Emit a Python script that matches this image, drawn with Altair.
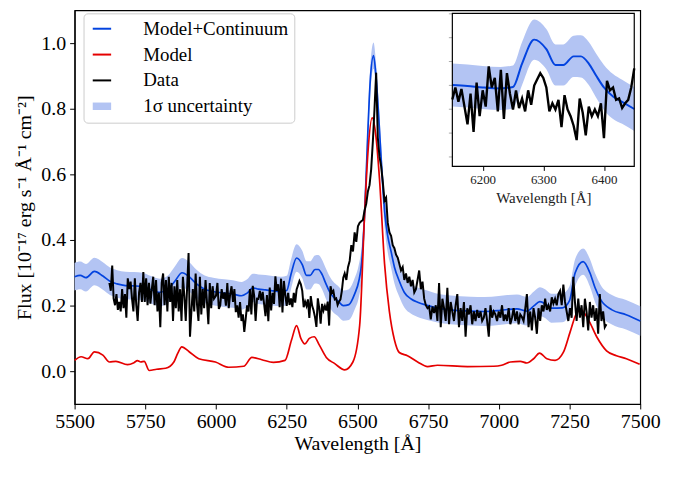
import altair as alt
import pandas as pd

# ---------------- data ----------------
# Observed spectrum ("Data"), in segments: (start wavelength, step, flux values)
DATA_A = [0.269, 0.245, 0.322, 0.221, 0.201, 0.235, 0.187, 0.211, 0.182, 0.25,
          0.192, 0.235, 0.163, 0.283, 0.25, 0.273, 0.221, 0.182, 0.283, 0.201,
          0.153, 0.240, 0.269, 0.211, 0.302, 0.211, 0.283, 0.201, 0.269, 0.206,
          0.25, 0.288, 0.201, 0.278, 0.182, 0.240, 0.134, 0.269, 0.298, 0.201,
          0.278, 0.182, 0.288, 0.211, 0.269, 0.153, 0.259, 0.192, 0.278, 0.182,
          0.25, 0.153, 0.288, 0.230, 0.153, 0.259, 0.36, 0.105, 0.182, 0.25,
          0.182, 0.298, 0.201, 0.153, 0.288, 0.173, 0.25, 0.192, 0.278, 0.211,
          0.143, 0.269, 0.192, 0.259, 0.221]
DATA_B = [0.23, 0.269, 0.19, 0.201, 0.25, 0.221, 0.24, 0.20, 0.269, 0.192,
          0.235, 0.259, 0.211, 0.25, 0.18, 0.201, 0.163, 0.211, 0.153, 0.173,
          0.12, 0.16, 0.201, 0.182, 0.25, 0.173, 0.26, 0.230, 0.153, 0.221]
DATA_C = [0.22, 0.245, 0.215, 0.242, 0.205, 0.168, 0.232, 0.152, 0.255, 0.185,
          0.239, 0.205, 0.289, 0.245, 0.265, 0.195, 0.282, 0.179, 0.275, 0.232,
          0.199, 0.239, 0.202, 0.222, 0.195, 0.239, 0.209, 0.249, 0.262, 0.275,
          0.265, 0.245, 0.195, 0.212, 0.199, 0.219, 0.162, 0.229, 0.199, 0.185,
          0.165, 0.135, 0.222, 0.192, 0.145, 0.205, 0.185, 0.199, 0.185, 0.212,
          0.139, 0.259, 0.239, 0.245, 0.219, 0.222, 0.202, 0.212, 0.219, 0.245,
          0.285]
DATA_D = [0.298, 0.278, 0.317, 0.336, 0.384, 0.365, 0.423, 0.394, 0.442, 0.452,
          0.457, 0.461, 0.49, 0.51, 0.548, 0.567, 0.616, 0.70, 0.80, 0.91,
          0.712, 0.654, 0.625, 0.577, 0.52, 0.529, 0.452, 0.423, 0.413, 0.384,
          0.375, 0.355, 0.346, 0.327, 0.307, 0.317, 0.278, 0.298, 0.269, 0.288,
          0.259, 0.278, 0.24, 0.25]
DATA_E = [0.278, 0.307, 0.25, 0.273, 0.221, 0.201, 0.192, 0.197, 0.158, 0.197,
          0.177, 0.201, 0.153, 0.269, 0.134, 0.221, 0.192, 0.153, 0.254, 0.143,
          0.211, 0.182, 0.153, 0.201, 0.235, 0.134, 0.192, 0.153, 0.211, 0.105,
          0.192, 0.173, 0.201, 0.143, 0.182, 0.153, 0.187, 0.163, 0.182, 0.153,
          0.163, 0.192, 0.153, 0.105, 0.201, 0.163, 0.182, 0.173, 0.153, 0.182,
          0.163, 0.201, 0.153, 0.173, 0.153, 0.192, 0.143, 0.163, 0.192, 0.153,
          0.182, 0.143, 0.173, 0.165, 0.153, 0.19, 0.235, 0.134, 0.182, 0.124,
          0.192]
DATA_F = [0.163, 0.114, 0.192, 0.153, 0.201, 0.182, 0.221, 0.187, 0.201, 0.182,
          0.225, 0.206, 0.221, 0.201, 0.235, 0.245, 0.201, 0.264, 0.211, 0.182,
          0.153, 0.192, 0.163, 0.288, 0.211, 0.153, 0.221, 0.163, 0.201, 0.134,
          0.221, 0.182, 0.124, 0.211, 0.163, 0.201, 0.153, 0.192, 0.114, 0.235,
          0.153, 0.182, 0.134, 0.143]
DATA_SEGMENTS = [(5623, 5.0, DATA_A), (6000, 5.0, DATA_B), (6150, 5.0, DATA_C),
                 (6455, 5.858, DATA_D), (6712.6, 5.858, DATA_E), (7128.6, 5.858, DATA_F)]

# Model + continuum (blue) and its 1-sigma half width
MODEL_WL = [5500, 5520, 5540, 5570, 5600, 5625, 5650, 5680, 5710, 5740, 5770, 5800,
            5830, 5855, 5880, 5905, 5930, 5960, 5990, 6030, 6060, 6090, 6110, 6130,
            6150, 6175, 6200, 6230, 6250, 6265, 6285, 6305, 6320, 6333, 6350, 6362,
            6375, 6387, 6400, 6415, 6430, 6450, 6470, 6490, 6505, 6515, 6525, 6537,
            6545, 6557, 6566, 6575, 6584, 6598, 6607, 6619, 6631, 6648, 6666, 6690,
            6713, 6750, 6780, 6830, 6900, 6950, 7000, 7030, 7064, 7100, 7125, 7145,
            7165, 7185, 7225, 7250, 7270, 7298, 7322, 7340, 7360, 7400, 7450, 7500]
MODEL_CONT = [0.288, 0.292, 0.285, 0.304, 0.290, 0.274, 0.266, 0.261, 0.260, 0.258, 0.248, 0.240,
              0.250, 0.275, 0.300, 0.288, 0.267, 0.250, 0.243, 0.238, 0.235, 0.230, 0.238, 0.254,
              0.250, 0.248, 0.245, 0.243, 0.246, 0.295, 0.345, 0.325, 0.292, 0.292, 0.310, 0.310,
              0.295, 0.270, 0.245, 0.226, 0.215, 0.200, 0.203, 0.235, 0.275, 0.330, 0.471, 0.731,
              0.880, 0.962, 0.895, 0.780, 0.645, 0.471, 0.413, 0.365, 0.317, 0.275, 0.240, 0.220,
              0.210, 0.200, 0.193, 0.187, 0.183, 0.182, 0.185, 0.188, 0.190, 0.183, 0.200, 0.212,
              0.205, 0.192, 0.193, 0.215, 0.300, 0.334, 0.300, 0.255, 0.218, 0.187, 0.172, 0.153]
SIGMA = [0.042, 0.042, 0.042, 0.042, 0.042, 0.042, 0.042, 0.042, 0.042, 0.042, 0.042, 0.042,
         0.042, 0.045, 0.045, 0.045, 0.043, 0.042, 0.042, 0.042, 0.042, 0.042, 0.042, 0.043,
         0.045, 0.045, 0.045, 0.045, 0.045, 0.045, 0.042, 0.042, 0.043, 0.043, 0.043, 0.044,
         0.045, 0.046, 0.047, 0.047, 0.046, 0.046, 0.047, 0.048, 0.050, 0.050, 0.050, 0.045,
         0.042, 0.040, 0.042, 0.045, 0.048, 0.050, 0.050, 0.050, 0.050, 0.048, 0.046, 0.045,
         0.045, 0.045, 0.044, 0.044, 0.044, 0.044, 0.044, 0.044, 0.044, 0.044, 0.044, 0.044,
         0.044, 0.044, 0.044, 0.044, 0.042, 0.040, 0.042, 0.044, 0.045, 0.045, 0.045, 0.045]

# Model alone (red)
RED_WL = [5500, 5523, 5547, 5570, 5600, 5623, 5646, 5687, 5710, 5722, 5734, 5746, 5764,
          5790, 5822, 5851, 5865, 5879, 5904, 5939, 5998, 6045, 6098, 6127, 6162, 6203,
          6244, 6267, 6285, 6300, 6314, 6330, 6347, 6365, 6390, 6420, 6455, 6484, 6508,
          6525, 6537, 6552, 6566, 6578, 6596, 6613, 6631, 6648, 6677, 6713, 6748, 6783,
          6889, 6982, 7010, 7041, 7076, 7099, 7123, 7144, 7170, 7199, 7228, 7252, 7275,
          7290, 7316, 7346, 7381, 7416, 7451, 7498]
RED_FLUX = [0.033, 0.044, 0.038, 0.059, 0.049, 0.028, 0.030, 0.020, 0.026, 0.032, 0.028, 0.030, 0.002,
            0.006, 0.009, 0.028, 0.055, 0.074, 0.060, 0.038, 0.028, 0.012, 0.015, 0.042, 0.035, 0.027,
            0.033, 0.095, 0.139, 0.100, 0.083, 0.100, 0.105, 0.080, 0.042, 0.023, 0.004, 0.028, 0.140,
            0.470, 0.664, 0.772, 0.712, 0.587, 0.327, 0.182, 0.095, 0.057, 0.047, 0.028, 0.014, 0.018,
            0.014, 0.015, 0.018, 0.028, 0.030, 0.025, 0.038, 0.055, 0.038, 0.033, 0.057, 0.119, 0.177,
            0.187, 0.158, 0.105, 0.062, 0.047, 0.038, 0.021]

SERIES = ["Model+Continuum", "Model", "Data", "1σ uncertainty"]
COLORS = ["#0343df", "#e50000", "#000000", "#b3c4f3"]
LINE_SYMBOL = "M-1.85,-0.2H1.85V0.2H-1.85Z"
BAND_SYMBOL = "M-1.85,-0.75H1.85V0.75H-1.85Z"
SYMBOLS = [LINE_SYMBOL, LINE_SYMBOL, LINE_SYMBOL, BAND_SYMBOL]
X_TICKS = [5500, 5750, 6000, 6250, 6500, 6750, 7000, 7250, 7500]
Y_TICKS = [0.0, 0.2, 0.4, 0.6, 0.8, 1.0]
INSET_X_TICKS = [6200, 6300, 6400]
INSET_Y_TICKS = [0.10, 0.15, 0.20, 0.25, 0.30, 0.35, 0.40]
INSET_X_DOMAIN = [6150, 6450]
INSET_Y_DOMAIN = [0.08, 0.40]

# ---------------- tables ----------------
rows = []
for start, step, vals in DATA_SEGMENTS:
    for i, v in enumerate(vals):
        rows.append({"wl": start + step * i, "flux": v})
data_df = pd.DataFrame(rows)

model_df = pd.DataFrame({"wl": MODEL_WL, "flux": MODEL_CONT, "sig": SIGMA})
model_df["lo"] = model_df["flux"] - model_df["sig"]
model_df["hi"] = model_df["flux"] + model_df["sig"]

red_df = pd.DataFrame({"wl": RED_WL, "flux": RED_FLUX})

# legend-only table (no positions -> nothing drawn, only the legend)
legend_df = pd.DataFrame({"series": SERIES, "wl": [None] * 4, "flux": [None] * 4})

FONT = "Liberation Serif"
W, H = 569, 396
INSET_TOP, INSET_BOTTOM = 3, 157
INSET_LEFT, INSET_RIGHT = 380, 563

xs = alt.Scale(domain=[5500, 7500], nice=False, zero=False)
ys = alt.Scale(domain=[-0.1, 1.1], nice=False, zero=False)

legend = alt.Legend(
    title=None, orient="none", legendX=9, legendY=3,
    labelFont=FONT, labelFontSize=19, labelColor="black",
    padding=6, rowPadding=6, symbolSize=100, symbolOffset=3, labelOffset=32,
    symbolStrokeWidth=0, symbolOpacity=1,
    fillColor="white", strokeColor="#cccccc", cornerRadius=4,
)

xax = alt.Axis(values=X_TICKS, format="d", title="Wavelength [Å]", labelFlush=False,
               labelPadding=3, titlePadding=2, orient="bottom")
yax = alt.Axis(values=Y_TICKS, format=".1f", title="Flux [10⁻¹⁷ erg s⁻¹ Å⁻¹ cm⁻²]",
               labelPadding=4, titlePadding=6, orient="left")

band = alt.Chart(model_df).mark_area(interpolate="monotone", color=COLORS[3]).encode(
    x=alt.X("wl:Q", scale=xs, axis=xax),
    y=alt.Y("lo:Q", scale=ys, axis=yax),
    y2="hi:Q",
)
blue = alt.Chart(model_df).mark_line(interpolate="monotone", strokeWidth=1.7, color=COLORS[0]).encode(
    x="wl:Q", y="flux:Q")
red = alt.Chart(red_df).mark_line(interpolate="monotone", strokeWidth=1.7, color=COLORS[1]).encode(
    x="wl:Q", y="flux:Q")
black = alt.Chart(data_df).mark_line(strokeWidth=2, color=COLORS[2]).encode(
    x="wl:Q", y="flux:Q")
legend_layer = alt.Chart(legend_df).mark_point(filled=True, size=100, opacity=1).encode(
    x="wl:Q", y="flux:Q",
    color=alt.Color("series:N", scale=alt.Scale(domain=SERIES, range=COLORS), legend=legend, sort=SERIES),
    shape=alt.Shape("series:N", scale=alt.Scale(domain=SERIES, range=SYMBOLS), legend=legend, sort=SERIES),
)

main = alt.layer(band, blue, red, black, legend_layer)

# ---------------- inset ----------------
ixs = alt.Scale(domain=INSET_X_DOMAIN, range=[INSET_LEFT, INSET_RIGHT], nice=False, zero=False)
iys = alt.Scale(domain=INSET_Y_DOMAIN, range=[INSET_BOTTOM, INSET_TOP], nice=False, zero=False)
inset_x_axis = alt.Axis(orient="bottom", offset=-(H - INSET_BOTTOM), values=INSET_X_TICKS, format="d",
                        title="Wavelength [Å]", labelFontSize=13, titleFontSize=15,
                        labelColor="#222222", titleColor="#222222", tickSize=4,
                        labelPadding=3, titlePadding=4, domain=False)
inset_y_axis = alt.Axis(orient="left", offset=-INSET_LEFT, values=INSET_Y_TICKS, labels=False,
                        title=None, tickSize=4, tickColor="#aaaaaa", domain=False)

lo_x, hi_x = INSET_X_DOMAIN
i_data = data_df[(data_df.wl >= lo_x) & (data_df.wl <= hi_x)]
i_model = model_df[(model_df.wl >= lo_x) & (model_df.wl <= hi_x)]
box_df = pd.DataFrame({"x0": [INSET_X_DOMAIN[0]], "x1": [INSET_X_DOMAIN[1]],
                       "y0": [INSET_Y_DOMAIN[0]], "y1": [INSET_Y_DOMAIN[1]]})

i_band = alt.Chart(i_model).mark_area(interpolate="monotone", color=COLORS[3]).encode(
    x=alt.X("wl:Q", scale=ixs, axis=inset_x_axis),
    y=alt.Y("lo:Q", scale=iys, axis=inset_y_axis),
    y2="hi:Q")
i_blue = alt.Chart(i_model).mark_line(interpolate="monotone", color=COLORS[0], strokeWidth=2).encode(
    x="wl:Q", y="flux:Q")
i_black = alt.Chart(i_data).mark_line(color="black", strokeWidth=2.4).encode(
    x="wl:Q", y="flux:Q")
i_box = alt.Chart(box_df).mark_rect(fillOpacity=0, stroke="black", strokeWidth=1.2).encode(
    x="x0:Q", x2="x1:Q", y="y0:Q", y2="y1:Q")

inset = alt.layer(i_band, i_blue, i_black, i_box)

chart = alt.layer(main, inset).resolve_scale(
    x="independent", y="independent"
).resolve_axis(
    x="independent", y="independent"
).properties(
    width=W, height=H,
    autosize=alt.AutoSizeParams(type="none"),
    padding={"left": 67, "top": 1, "right": 38, "bottom": 55},
).configure_view(
    stroke="black", strokeWidth=1.2
).configure_axis(
    labelFont=FONT, titleFont=FONT, labelFontSize=20, titleFontSize=20,
    titleFontWeight="normal", labelColor="black", titleColor="black",
    tickColor="black", domainColor="black", tickSize=5, grid=False,
    domainWidth=1.2,
).configure_legend(
    labelFont=FONT
)

chart.save("out.html", embed_options={"renderer": "svg", "actions": False})
